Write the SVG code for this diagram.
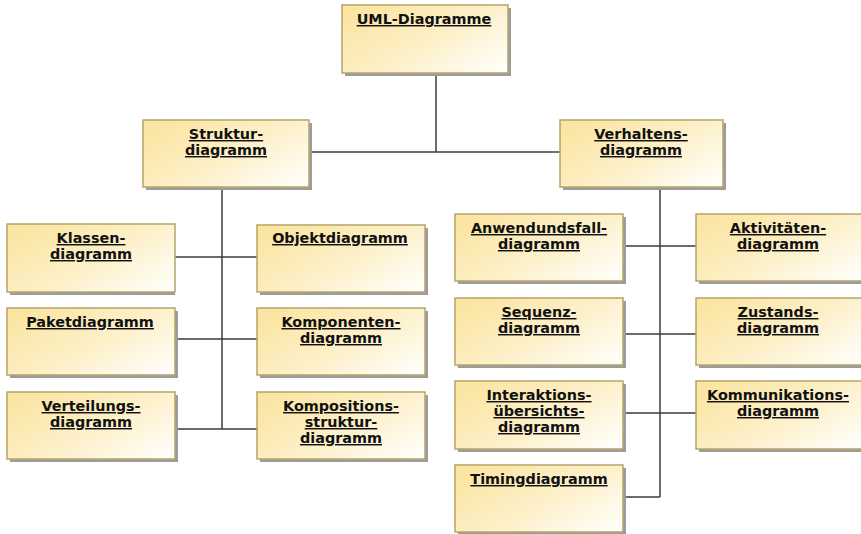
<svg xmlns="http://www.w3.org/2000/svg" width="861" height="534" viewBox="0 0 861 534">
<defs>
<linearGradient id="fill" x1="0" y1="0.2" x2="1" y2="0.9">
<stop offset="0" stop-color="#fbe5a2"/>
<stop offset="0.55" stop-color="#fdf1cc"/>
<stop offset="1" stop-color="#fffefa"/>
</linearGradient>
<style>
.sh{fill:#9c9c9c;}
.bx{fill:url(#fill);stroke:#b5a468;stroke-width:1.5;}
.t{font-family:"DejaVu Sans",Verdana,sans-serif;font-weight:bold;font-size:14.4px;fill:#111;text-anchor:middle;text-decoration:underline;}
.c{stroke:#3c3c3c;stroke-width:1.5;fill:none;}
</style>
</defs>
<rect width="861" height="534" fill="#ffffff"/>
<g id="connectors">
<path class="c" d="M436 73V152M309 152H560"/>
<path class="c" d="M222 187V429M175 257H257M175 339H257M175 429H257"/>
<path class="c" d="M660 187V497M623 246H696M623 334H696M623 413H696M623 497H660"/>
</g>
<g id="uml"><rect class="sh" x="345" y="8" width="166" height="68"/><rect class="bx" x="342" y="5" width="166" height="68"/><text class="t" x="424" y="24">UML-Diagramme</text></g>
<g id="struktur"><rect class="sh" x="146" y="123" width="166" height="67"/><rect class="bx" x="143" y="120" width="166" height="67"/><text class="t" x="226" y="139">Struktur-</text><text class="t" x="226" y="155">diagramm</text></g>
<g id="verhaltens"><rect class="sh" x="563" y="123" width="163" height="67"/><rect class="bx" x="560" y="120" width="163" height="67"/><text class="t" x="641" y="139">Verhaltens-</text><text class="t" x="641" y="155">diagramm</text></g>
<g id="klassen"><rect class="sh" x="10" y="227" width="165" height="68"/><rect class="bx" x="7" y="224" width="168" height="68"/><text class="t" x="91" y="243">Klassen-</text><text class="t" x="91" y="259">diagramm</text></g>
<g id="objekt"><rect class="sh" x="260" y="228" width="168" height="67"/><rect class="bx" x="257" y="225" width="168" height="67"/><text class="t" x="340" y="243">Objektdiagramm</text></g>
<g id="paket"><rect class="sh" x="10" y="311" width="168" height="67"/><rect class="bx" x="7" y="308" width="168" height="67"/><text class="t" x="90" y="327">Paketdiagramm</text></g>
<g id="komponenten"><rect class="sh" x="260" y="311" width="168" height="67"/><rect class="bx" x="257" y="308" width="168" height="67"/><text class="t" x="341" y="327">Komponenten-</text><text class="t" x="341" y="343">diagramm</text></g>
<g id="verteilungs"><rect class="sh" x="10" y="395" width="168" height="67"/><rect class="bx" x="7" y="392" width="168" height="67"/><text class="t" x="91" y="411">Verteilungs-</text><text class="t" x="91" y="427">diagramm</text></g>
<g id="kompositions"><rect class="sh" x="260" y="395" width="168" height="67"/><rect class="bx" x="257" y="392" width="168" height="67"/><text class="t" x="341" y="411">Kompositions-</text><text class="t" x="341" y="427">struktur-</text><text class="t" x="341" y="443">diagramm</text></g>
<g id="anwendungsfall"><rect class="sh" x="458" y="217" width="168" height="67"/><rect class="bx" x="455" y="214" width="168" height="67"/><text class="t" x="539" y="233">Anwendundsfall-</text><text class="t" x="539" y="249">diagramm</text></g>
<g id="aktivitaeten"><rect class="sh" x="699" y="217" width="168" height="67"/><rect class="bx" x="696" y="214" width="168" height="67"/><text class="t" x="778" y="233">Aktivitäten-</text><text class="t" x="778" y="249">diagramm</text></g>
<g id="sequenz"><rect class="sh" x="458" y="301" width="168" height="67"/><rect class="bx" x="455" y="298" width="168" height="67"/><text class="t" x="539" y="317">Sequenz-</text><text class="t" x="539" y="333">diagramm</text></g>
<g id="zustands"><rect class="sh" x="699" y="301" width="168" height="67"/><rect class="bx" x="696" y="298" width="168" height="67"/><text class="t" x="778" y="317">Zustands-</text><text class="t" x="778" y="333">diagramm</text></g>
<g id="interaktions"><rect class="sh" x="458" y="384" width="168" height="68"/><rect class="bx" x="455" y="381" width="168" height="68"/><text class="t" x="539" y="400">Interaktions-</text><text class="t" x="539" y="416">übersichts-</text><text class="t" x="539" y="432">diagramm</text></g>
<g id="kommunikations"><rect class="sh" x="699" y="384" width="168" height="68"/><rect class="bx" x="696" y="381" width="168" height="68"/><text class="t" x="778" y="400">Kommunikations-</text><text class="t" x="778" y="416">diagramm</text></g>
<g id="timing"><rect class="sh" x="458" y="468" width="168" height="67"/><rect class="bx" x="455" y="465" width="168" height="67"/><text class="t" x="539" y="484">Timingdiagramm</text></g>
</svg>
